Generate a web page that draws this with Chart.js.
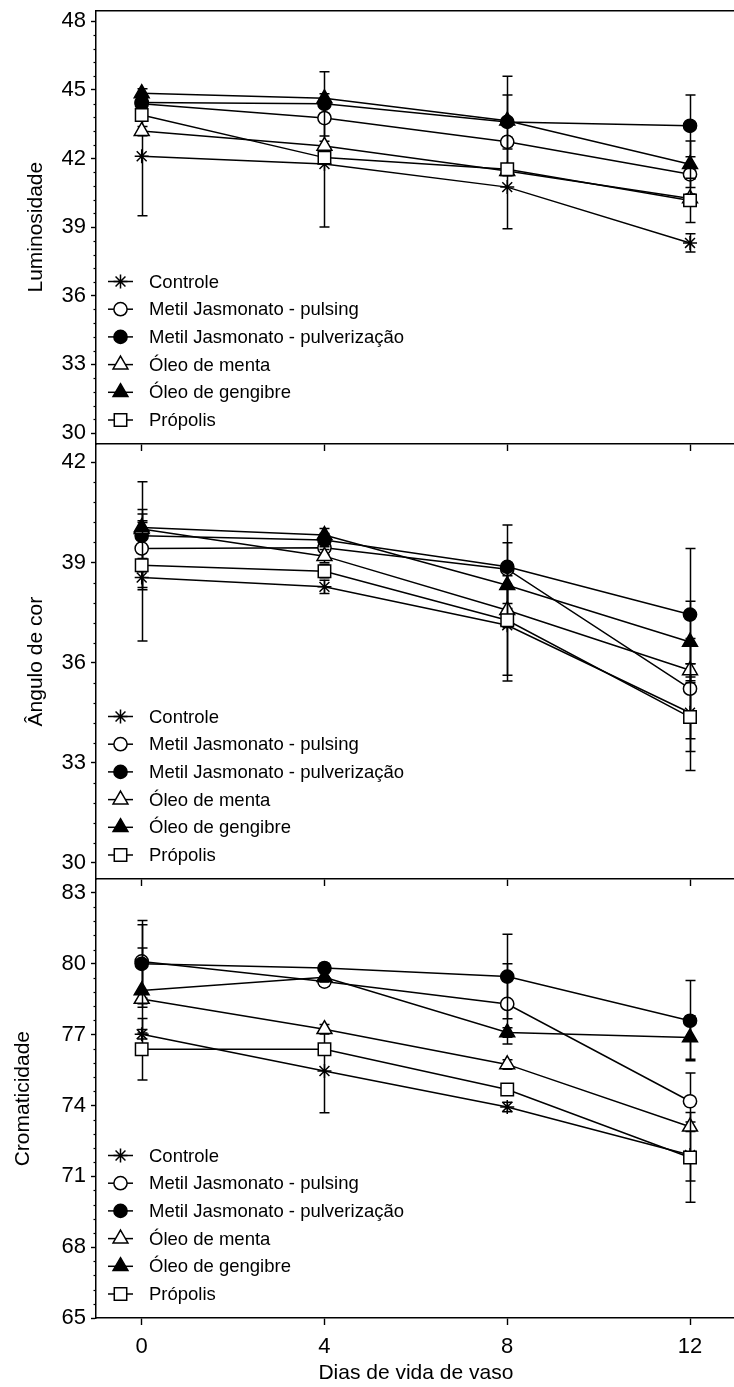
<!DOCTYPE html>
<html lang="pt">
<head>
<meta charset="utf-8">
<title>Luminosidade, ângulo de cor e cromaticidade</title>
<script src="https://cdn.jsdelivr.net/npm/chart.js@4/dist/chart.umd.min.js"></script>
<style>
  html, body { margin: 0; padding: 0; background: #fff; overflow: hidden; width: 734px; height: 1387px; }
  canvas { position: absolute; left: 0; }
</style>
</head>
<body>
<canvas id="lum" width="746" height="460" style="top:0px"></canvas>
<canvas id="ang" width="746" height="461" style="top:434px"></canvas>
<canvas id="cro" width="746" height="518" style="top:869px"></canvas>
<script>
// Days of vase life and the six treatments
const days = [0, 4, 8, 12];
const dayTicks = [0, 4, 8, 12];
const seriesNames = [
  'Controle',
  'Metil Jasmonato - pulsing',
  'Metil Jasmonato - pulverização',
  'Óleo de menta',
  'Óleo de gengibre',
  'Própolis'
];

// Luminosidade: means and standard deviations (rows follow seriesNames)
const lumMeans = [
  [42.1, 41.76, 40.75, 38.31],
  [44.4, 43.77, 42.73, 41.31],
  [44.45, 44.39, 43.6, 43.43],
  [43.2, 42.55, 41.45, 40.25],
  [44.85, 44.63, 43.65, 41.75],
  [43.9, 42.04, 41.53, 40.17]
];
const lumSd = [
  [2.6, 2.75, 1.82, 0.4],
  [0.2, 0.2, 0.2, 0.2],
  [0.2, 1.4, 1.18, 1.35],
  [0.2, 0.2, 0.2, 0.2],
  [0.2, 0.2, 1.95, 1.02],
  [0.2, 0.2, 0.2, 0.97]
];
const lumTicks = [30, 33, 36, 39, 42, 45, 48];

// Ângulo de cor
const angMeans = [
  [38.55, 38.27, 37.12, 34.5],
  [39.42, 39.44, 38.8, 35.22],
  [39.8, 39.67, 38.87, 37.44],
  [40.0, 39.19, 37.57, 35.77],
  [40.05, 39.82, 38.32, 36.62],
  [38.92, 38.74, 37.27, 34.37]
];
const angSd = [
  [1.9, 0.2, 1.67, 1.16],
  [1.17, 0.2, 0.2, 1.5],
  [1.62, 0.2, 1.25, 1.98],
  [0.2, 0.2, 0.2, 0.2],
  [0.2, 0.2, 1.27, 1.22],
  [0.2, 0.2, 1.65, 1.6]
];
const angTicks = [30, 33, 36, 39, 42];

// Cromaticidade
const croMeans = [
  [77.02, 75.46, 73.94, 71.9],
  [80.1, 79.25, 78.3, 74.18],
  [80.0, 79.82, 79.46, 77.59],
  [78.51, 77.23, 75.74, 73.1],
  [78.87, 79.43, 77.09, 76.88],
  [76.38, 76.38, 74.68, 71.8]
];
const croSd = [
  [0.2, 1.77, 0.2, 1.1],
  [1.56, 0.2, 1.7, 1.2],
  [1.84, 0.2, 1.79, 1.7],
  [0.2, 0.2, 0.2, 0.2],
  [1.8, 0.2, 0.2, 0.92],
  [1.3, 0.2, 0.2, 1.9]
];
const croTicks = [65, 68, 71, 74, 77, 80, 83];

// Marker appearance per treatment
const markerStyle = ['star', 'circle', 'circle', 'triangle', 'triangle', 'rect'];
const markerFill = ['#000', '#fff', '#000', '#fff', '#000', '#fff'];
const markerRadius = [7, 6.6, 6.6, 8.6, 8.6, 8.8];

const FONT = "'Liberation Sans', Arial, Helvetica, sans-serif";
const INK = '#000';

// Small unlabelled ticks between the numbered ones on the y axis
const minorTicks = {
  id: 'minorTicks',
  afterDraw(chart) {
    const y = chart.scales.y;
    const ticks = y.ticks.map(t => t.value);
    const step = (ticks[1] - ticks[0]) / 5;
    const ctx = chart.ctx;
    ctx.save();
    ctx.strokeStyle = INK;
    ctx.lineWidth = 1.2;
    const kMin = Math.ceil((y.min - ticks[0]) / step - 1e-6);
    const kMax = Math.floor((y.max - ticks[0]) / step + 1e-6);
    for (let k = kMin; k <= kMax; k++) {
      if (k % 5 === 0) continue;
      const py = Math.round(y.getPixelForValue(ticks[0] + k * step)) + 0.5;
      ctx.beginPath();
      ctx.moveTo(y.right - 2.5, py);
      ctx.lineTo(y.right, py);
      ctx.stroke();
    }
    ctx.restore();
  }
};

// Standard deviation bars, drawn with each treatment before its line and symbols
const errorBars = {
  id: 'errorBars',
  beforeDatasetDraw(chart, args) {
    const ds = chart.data.datasets[args.index];
    const { ctx } = chart;
    const x = chart.scales.x, y = chart.scales.y;
    ctx.save();
    ctx.strokeStyle = INK;
    ctx.lineWidth = 1.5;
    ds.data.forEach((p, j) => {
      const sd = ds.sd[j];
      if (!sd) return;
      const px = Math.round(x.getPixelForValue(p.x)) + 0.5;
      const top = y.getPixelForValue(p.y + sd);
      const bot = y.getPixelForValue(p.y - sd);
      ctx.beginPath();
      ctx.moveTo(px, top); ctx.lineTo(px, bot);
      ctx.moveTo(px - 5, top); ctx.lineTo(px + 5, top);
      ctx.moveTo(px - 5, bot); ctx.lineTo(px + 5, bot);
      ctx.stroke();
    });
    ctx.restore();
  }
};

function drawMarker(ctx, style, radius, x, y) {
  if (Chart.helpers && Chart.helpers.drawPoint) {
    Chart.helpers.drawPoint(ctx, { pointStyle: style, radius: radius, rotation: 0, borderWidth: 1.5 }, x, y);
  }
}

// Legend in the lower left corner of each panel
const panelLegend = {
  id: 'panelLegend',
  afterDraw(chart) {
    const { ctx, chartArea } = chart;
    const rowGap = 27.7;
    const n = chart.data.datasets.length;
    const firstY = chartArea.bottom - 24 - (n - 1) * rowGap;
    ctx.save();
    chart.data.datasets.forEach((ds, i) => {
      const yy = firstY + i * rowGap;
      const x0 = chartArea.left + 12, x1 = chartArea.left + 37;
      ctx.strokeStyle = INK;
      ctx.lineWidth = 1.5;
      ctx.beginPath();
      ctx.moveTo(x0, yy); ctx.lineTo(x1, yy);
      ctx.stroke();
      ctx.fillStyle = ds.pointBackgroundColor;
      ctx.strokeStyle = INK;
      ctx.lineWidth = 1.5;
      drawMarker(ctx, ds.pointStyle, ds.pointRadius, (x0 + x1) / 2, yy);
      ctx.fillStyle = INK;
      ctx.font = '18.5px ' + FONT;
      ctx.textAlign = 'left';
      ctx.textBaseline = 'middle';
      ctx.fillText(ds.label, chartArea.left + 53, yy + 1);
    });
    ctx.restore();
  }
};

// Frame line along the top of the first panel
const topFrame = {
  id: 'topFrame',
  afterDraw(chart, args, opts) {
    if (!opts.show) return;
    const { ctx, chartArea } = chart;
    ctx.save();
    ctx.strokeStyle = INK;
    ctx.lineWidth = 1.5;
    ctx.beginPath();
    ctx.moveTo(chartArea.left, chartArea.top + 0.5);
    ctx.lineTo(chartArea.right, chartArea.top + 0.5);
    ctx.stroke();
    ctx.restore();
  }
};

function makePanel(id, cfg) {
  const datasets = seriesNames.map((name, i) => ({
    label: name,
    data: days.map((d, j) => ({ x: d, y: cfg.means[i][j] })),
    sd: cfg.sd[i],
    order: seriesNames.length - 1 - i,
    borderColor: INK,
    borderWidth: 1.5,
    backgroundColor: markerFill[i],
    pointStyle: markerStyle[i],
    pointRadius: markerRadius[i],
    pointHoverRadius: markerRadius[i],
    pointBorderWidth: 1.5,
    pointBackgroundColor: markerFill[i],
    pointBorderColor: INK,
    tension: 0,
    fill: false
  }));

  return new Chart(document.getElementById(id), {
    type: 'line',
    data: { datasets },
    options: {
      responsive: false,
      animation: false,
      devicePixelRatio: 1,
      events: [],
      layout: { padding: { top: 10, left: 0, right: 0, bottom: 0 } },
      plugins: {
        legend: { display: false },
        tooltip: { enabled: false },
        topFrame: { show: !!cfg.topFrame }
      },
      scales: {
        x: {
          type: 'linear',
          position: 'bottom',
          min: -1,
          max: 13,
          bounds: 'data',
          afterBuildTicks: s => { s.ticks = dayTicks.map(v => ({ value: v })); },
          afterFit: s => { s.height = cfg.xHeight; s.paddingLeft = 0; s.paddingRight = 0; },
          grid: { display: true, drawOnChartArea: false, drawTicks: true, tickLength: 7, tickWidth: 1.4, tickColor: INK },
          border: { display: true, color: INK, width: 1.5 },
          ticks: {
            display: !!cfg.showX,
            color: INK,
            padding: 9,
            font: { family: FONT, size: 22 },
            maxRotation: 0,
            callback: v => String(v)
          },
          title: {
            display: !!cfg.showX,
            text: 'Dias de vida de vaso',
            color: INK,
            font: { family: FONT, size: 21, lineHeight: 1 },
            padding: { top: 0, bottom: 3 }
          }
        },
        y: {
          type: 'linear',
          min: cfg.min,
          max: cfg.max,
          bounds: 'data',
          afterBuildTicks: s => { s.ticks = cfg.ticks.map(v => ({ value: v })); },
          afterFit: s => { s.width = 96; s.paddingTop = 0; s.paddingBottom = 0; },
          grid: { display: true, drawOnChartArea: false, drawTicks: true, tickLength: 5, tickWidth: 1.4, tickColor: INK },
          border: { display: true, color: INK, width: 1.5 },
          ticks: {
            color: INK,
            padding: 5,
            font: { family: FONT, size: 22 },
            callback: v => String(v)
          },
          title: {
            display: true,
            text: cfg.title,
            color: INK,
            font: { family: FONT, size: 21 },
            padding: { top: cfg.titlePad, bottom: 0 }
          }
        }
      }
    },
    plugins: [errorBars, minorTicks, panelLegend, topFrame]
  });
}

makePanel('lum', {
  means: lumMeans, sd: lumSd, ticks: lumTicks,
  min: 29.52, max: 48.48, title: 'Luminosidade', titlePad: 24,
  xHeight: 16, topFrame: true
});
makePanel('ang', {
  means: angMeans, sd: angSd, ticks: angTicks,
  min: 29.52, max: 42.54, title: 'Ângulo de cor', titlePad: 24,
  xHeight: 16
});
makePanel('cro', {
  means: croMeans, sd: croSd, ticks: croTicks,
  min: 65, max: 83.58, title: 'Cromaticidade', titlePad: 11,
  xHeight: 69, showX: true
});
</script>
</body>
</html>
